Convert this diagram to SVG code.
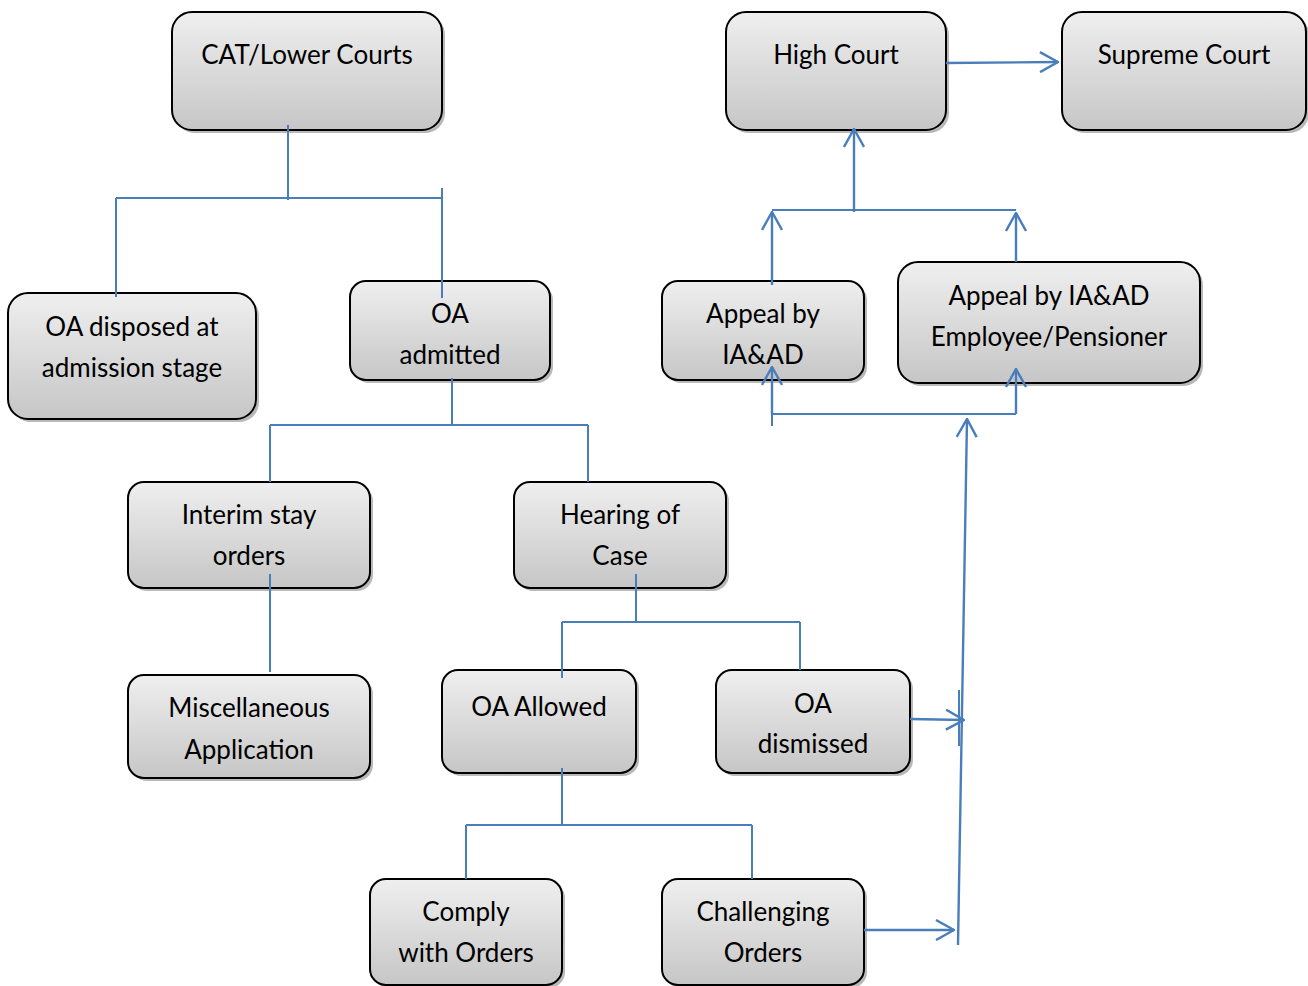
<svg xmlns="http://www.w3.org/2000/svg" width="1308" height="986" viewBox="0 0 1308 986">
<defs>
<linearGradient id="g" x1="0" y1="0" x2="0" y2="1">
<stop offset="0" stop-color="#efefef"/>
<stop offset="1" stop-color="#c6c6c6"/>
</linearGradient>
<marker id="ar" viewBox="0 0 20 22" refX="19" refY="11" markerWidth="20" markerHeight="22" markerUnits="userSpaceOnUse" orient="auto">
<path d="M1,1 L19,11 L1,21" fill="none" stroke="#4a7ebb" stroke-width="2.4"/>
</marker>
</defs>
<style>
.sh{fill:#8a8a8a;opacity:0.6}
.bx{fill:url(#g);stroke:#000;stroke-width:2}
text{font-family:Lato,"Liberation Sans",sans-serif;font-size:26px;fill:#000;text-anchor:middle;dominant-baseline:middle}
.c{fill:none;stroke:#4a7ebb;stroke-width:2}
.a{fill:none;stroke:#4a7ebb;stroke-width:2.4;marker-end:url(#ar)}
</style>
<rect width="1308" height="986" fill="#fff"/>
<g id="n-cat"><rect class="sh" x="175" y="15" width="270" height="118" rx="20"/><rect class="bx" x="172" y="12" width="270" height="118" rx="20"/><text x="307" y="57">CAT/Lower Courts</text></g>
<g id="n-high"><rect class="sh" x="729" y="15" width="220" height="118" rx="20"/><rect class="bx" x="726" y="12" width="220" height="118" rx="20"/><text x="836" y="57">High Court</text></g>
<g id="n-supreme"><rect class="sh" x="1065" y="15" width="244" height="118" rx="20"/><rect class="bx" x="1062" y="12" width="244" height="118" rx="20"/><text x="1184" y="57">Supreme Court</text></g>
<g id="n-disposed"><rect class="sh" x="11" y="296" width="248" height="126" rx="20"/><rect class="bx" x="8" y="293" width="248" height="126" rx="20"/><text x="132" y="329">OA disposed at</text><text x="132" y="370">admission stage</text></g>
<g id="n-admitted"><rect class="sh" x="353" y="284" width="200" height="99" rx="16"/><rect class="bx" x="350" y="281" width="200" height="99" rx="16"/><text x="450" y="316">OA</text><text x="450" y="357">admitted</text></g>
<g id="n-appeal1"><rect class="sh" x="665" y="284" width="202" height="99" rx="16"/><rect class="bx" x="662" y="281" width="202" height="99" rx="16"/><text x="763" y="316">Appeal by</text><text x="763" y="357">IA&amp;AD</text></g>
<g id="n-appeal2"><rect class="sh" x="901" y="265" width="302" height="121" rx="20"/><rect class="bx" x="898" y="262" width="302" height="121" rx="20"/><text x="1049" y="298">Appeal by IA&amp;AD</text><text x="1049" y="339">Employee/Pensioner</text></g>
<g id="n-interim"><rect class="sh" x="131" y="485" width="242" height="106" rx="16"/><rect class="bx" x="128" y="482" width="242" height="106" rx="16"/><text x="249" y="517">Interim stay</text><text x="249" y="558">orders</text></g>
<g id="n-hearing"><rect class="sh" x="517" y="485" width="212" height="106" rx="16"/><rect class="bx" x="514" y="482" width="212" height="106" rx="16"/><text x="620" y="517">Hearing of</text><text x="620" y="558">Case</text></g>
<g id="n-misc"><rect class="sh" x="131" y="678" width="242" height="103" rx="16"/><rect class="bx" x="128" y="675" width="242" height="103" rx="16"/><text x="249" y="710">Miscellaneous</text><text x="249" y="752">Application</text></g>
<g id="n-allowed"><rect class="sh" x="445" y="673" width="194" height="103" rx="16"/><rect class="bx" x="442" y="670" width="194" height="103" rx="16"/><text x="539" y="709">OA Allowed</text></g>
<g id="n-dismissed"><rect class="sh" x="719" y="673" width="194" height="103" rx="16"/><rect class="bx" x="716" y="670" width="194" height="103" rx="16"/><text x="813" y="706">OA</text><text x="813" y="746">dismissed</text></g>
<g id="n-comply"><rect class="sh" x="373" y="882" width="192" height="106" rx="16"/><rect class="bx" x="370" y="879" width="192" height="106" rx="16"/><text x="466" y="914">Comply</text><text x="466" y="955">with Orders</text></g>
<g id="n-challenging"><rect class="sh" x="665" y="882" width="202" height="106" rx="16"/><rect class="bx" x="662" y="879" width="202" height="106" rx="16"/><text x="763" y="914">Challenging</text><text x="763" y="955">Orders</text></g>
<g id="connectors">
<path class="c" d="M288,125 V200 M116,198 H442 M116,198 V297 M442,188 V298"/>
<path class="c" d="M452,378 V426 M270,425 H588 M270,425 V482"/>
<path class="c" d="M588,425 V482"/>
<path class="c" d="M270,574 V672"/>
<path class="c" d="M636,574 V623 M562,622 H800 M562,622 V678 M800,622 V670"/>
<path class="c" d="M562,768 V826 M466,825 H752 M466,825 V879 M752,825 V879"/>
<path class="a" d="M864,930 H954"/>
<path class="a" d="M910,719 L964,720"/>
<path class="c" d="M959,690 V746"/>
<path class="a" d="M958,945 L967,419"/>
<path class="c" d="M772,414 H1016 M772,414 V426"/>
<path class="a" d="M772,414 V367"/>
<path class="a" d="M1016,414 V369"/>
<path class="a" d="M772,285 V212"/>
<path class="a" d="M1016,262 V213"/>
<path class="c" d="M772,210 H1016"/>
<path class="a" d="M854,212 V129"/>
<path class="a" d="M946,63 L1058,62"/>
</g>
</svg>
